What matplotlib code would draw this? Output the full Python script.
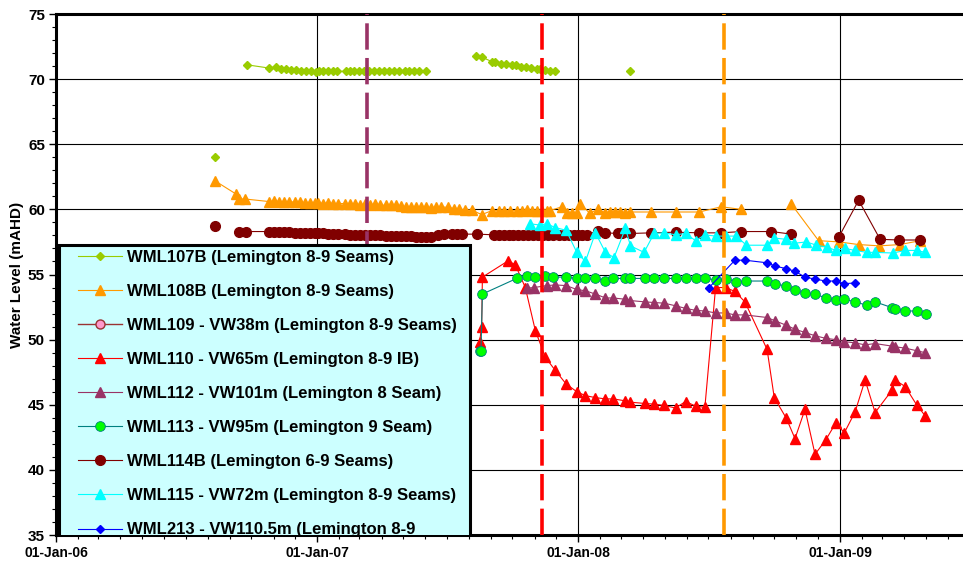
import numpy as np
import pandas as pd
import matplotlib
matplotlib.use('Agg')
import matplotlib.pyplot as plt
import matplotlib.dates as mdates
from matplotlib.lines import Line2D
from matplotlib.legend_handler import HandlerLine2D
from matplotlib.ticker import MultipleLocator

nan = np.nan

# water levels (mAHD), nan = gap in record
wml107b_dates = ['2006-08-11', '2006-08-20',
                 '2006-09-25', '2006-10-26', '2006-11-04', '2006-11-11', '2006-11-19', '2006-11-26',
                 '2006-12-02', '2006-12-09', '2006-12-16', '2006-12-23', '2006-12-30', '2007-01-04',
                 '2007-01-09', '2007-01-16', '2007-01-23', '2007-01-29', '2007-02-11', '2007-02-16',
                 '2007-02-22', '2007-03-01', '2007-03-07', '2007-03-14', '2007-03-21', '2007-03-28',
                 '2007-04-05', '2007-04-12', '2007-04-19', '2007-04-26', '2007-05-04', '2007-05-10',
                 '2007-05-16', '2007-05-24', '2007-06-02', '2007-07-01',
                 '2007-08-11', '2007-08-19', '2007-09-02', '2007-09-06', '2007-09-15', '2007-09-22',
                 '2007-10-01', '2007-10-06', '2007-10-13', '2007-10-20', '2007-10-27', '2007-11-04',
                 '2007-11-09', '2007-11-16', '2007-11-22', '2007-11-29', '2008-01-01',
                 '2008-03-13']
wml107b_vals = [64.0, nan,
                71.1, 70.85, 70.9, 70.8, 70.75, 70.7,
                70.7, 70.65, 70.65, 70.6, 70.55, 70.6,
                70.6, 70.6, 70.6, 70.6, 70.6, 70.65,
                70.65, 70.6, 70.6, 70.65, 70.6, 70.6,
                70.6, 70.6, 70.6, 70.6, 70.6, 70.6,
                70.6, 70.6, 70.6, nan,
                71.75, 71.7, 71.35, 71.3, 71.2, 71.15,
                71.1, 71.05, 70.95, 70.9, 70.85, 70.8,
                70.75, 70.7, 70.65, 70.6, nan,
                70.6]

wml108b_dates = ['2006-08-11', '2006-09-09', '2006-09-14', '2006-09-22', '2006-10-26', '2006-11-02',
                 '2006-11-09', '2006-11-16', '2006-11-23', '2006-12-01', '2006-12-08', '2006-12-15',
                 '2006-12-22', '2006-12-29', '2007-01-02', '2007-01-09', '2007-01-16', '2007-01-23',
                 '2007-01-30', '2007-02-09', '2007-02-16', '2007-02-23', '2007-03-02', '2007-03-09',
                 '2007-03-16', '2007-03-23', '2007-03-30', '2007-04-07', '2007-04-14', '2007-04-21',
                 '2007-04-28', '2007-05-05', '2007-05-12', '2007-05-19', '2007-05-26', '2007-06-02',
                 '2007-06-09', '2007-06-16', '2007-06-23', '2007-07-03', '2007-07-12', '2007-07-19',
                 '2007-07-26', '2007-08-05', '2007-08-19', '2007-09-02', '2007-09-12', '2007-09-19',
                 '2007-09-27', '2007-10-07', '2007-10-14', '2007-10-21', '2007-10-28', '2007-11-04',
                 '2007-11-11', '2007-11-18', '2007-11-22', '2007-12-09', '2007-12-16', '2007-12-23',
                 '2007-12-30', '2008-01-04', '2008-01-17', '2008-01-28', '2008-02-08', '2008-02-15',
                 '2008-02-22', '2008-02-29', '2008-03-07', '2008-03-14', '2008-04-12', '2008-05-16',
                 '2008-06-18', '2008-07-19', '2008-08-16', '2008-09-20', '2008-10-25', '2008-12-02',
                 '2008-12-31', '2009-01-27', '2009-02-25', '2009-03-26', '2009-04-23']
wml108b_vals = [62.2, 61.2, 60.8, 60.8, 60.6, 60.65,
                60.6, 60.6, 60.6, 60.55, 60.55, 60.5,
                60.5, 60.5, 60.5, 60.45, 60.5, 60.45,
                60.45, 60.45, 60.4, 60.4, 60.35, 60.4,
                60.35, 60.4, 60.35, 60.3, 60.3, 60.3,
                60.25, 60.2, 60.2, 60.15, 60.2, 60.15,
                60.1, 60.2, 60.2, 60.15, 60.05, 60.05,
                59.95, 59.95, 59.6, 59.9, 59.9, 59.9,
                59.9, 59.9, 59.9, 59.95, 59.9, 59.9,
                59.9, 59.9, 59.9, 60.2, 59.75, 59.75,
                59.75, 60.45, 59.7, 60.0, 59.75, 59.8,
                59.8, 59.8, 59.75, 59.8, 59.8, 59.8,
                59.8, 60.2, 60.0, nan, 60.4, 57.6,
                57.5, 57.3, 57.2, 57.3, 57.6]

wml110_dates = ['2007-08-16', '2007-08-19', '2007-08-20', '2007-09-25', '2007-10-05', '2007-10-19',
                '2007-11-02', '2007-11-16', '2007-11-29', '2007-12-15', '2007-12-30', '2008-01-11',
                '2008-01-25', '2008-02-08', '2008-02-19', '2008-03-07', '2008-03-14', '2008-04-03',
                '2008-04-16', '2008-04-30', '2008-05-16', '2008-05-30', '2008-06-13', '2008-06-26',
                '2008-07-11', '2008-07-25', '2008-08-07', '2008-08-21', '2008-09-21', '2008-10-01',
                '2008-10-18', '2008-10-30', '2008-11-13', '2008-11-27', '2008-12-12', '2008-12-26',
                '2009-01-07', '2009-01-22', '2009-02-05', '2009-02-19', '2009-03-15', '2009-03-19',
                '2009-04-02', '2009-04-18', '2009-04-30']
wml110_vals = [49.8, 51.0, 54.8, 56.05, 55.75, 54.0,
               50.7, 48.65, 47.7, 46.6, 46.0, 45.7,
               45.55, 45.45, 45.45, 45.3, 45.2, 45.1,
               45.05, 44.95, 44.75, 45.25, 44.9, 44.8,
               54.0, 54.0, 53.7, 52.9, 49.25, 45.55,
               43.95, 42.4, 44.65, 41.2, 42.3, 43.6,
               42.85, 44.45, 46.9, 44.4, 46.15, 46.9,
               46.4, 45.0, 44.15]

wml112_dates = ['2007-10-21', '2007-10-31', '2007-11-18', '2007-11-30', '2007-12-15', '2007-12-30',
                '2008-01-11', '2008-01-25', '2008-02-08', '2008-02-19', '2008-03-07', '2008-03-14',
                '2008-04-03', '2008-04-16', '2008-04-30', '2008-05-16', '2008-05-30', '2008-06-13',
                '2008-06-26', '2008-07-11', '2008-07-25', '2008-08-07', '2008-08-21', '2008-09-21',
                '2008-10-02', '2008-10-18', '2008-10-30', '2008-11-13', '2008-11-27', '2008-12-12',
                '2008-12-26', '2009-01-07', '2009-01-22', '2009-02-05', '2009-02-19', '2009-03-15',
                '2009-03-19', '2009-04-02', '2009-04-18', '2009-04-30']
wml112_vals = [53.95, 54.0, 54.15, 54.2, 54.15, 53.85,
               53.75, 53.5, 53.2, 53.2, 53.1, 53.0,
               52.9, 52.85, 52.8, 52.6, 52.4, 52.25,
               52.2, 52.05, 52.05, 51.9, 51.9, 51.7,
               51.45, 51.1, 50.8, 50.55, 50.3, 50.1,
               50.0, 49.85, 49.75, 49.6, 49.7, 49.5,
               49.45, 49.35, 49.15, 49.0]

wml113_dates = ['2007-08-16', '2007-08-18', '2007-08-20', '2007-10-07', '2007-10-21', '2007-11-02',
                '2007-11-16', '2007-11-27', '2007-12-15', '2007-12-30', '2008-01-11', '2008-01-25',
                '2008-02-08', '2008-02-19', '2008-03-07', '2008-03-14', '2008-04-03', '2008-04-16',
                '2008-04-30', '2008-05-16', '2008-05-30', '2008-06-13', '2008-06-26', '2008-07-11',
                '2008-07-26', '2008-08-09', '2008-08-23', '2008-09-21', '2008-10-02', '2008-10-18',
                '2008-10-30', '2008-11-13', '2008-11-27', '2008-12-12', '2008-12-26', '2009-01-07',
                '2009-01-22', '2009-02-07', '2009-02-19', '2009-03-15', '2009-03-19', '2009-04-02',
                '2009-04-19', '2009-05-01']
wml113_vals = [49.1, 49.1, 53.5, 54.7, 54.9, 54.8,
               54.85, 54.8, 54.8, 54.7, 54.7, 54.7,
               54.5, 54.7, 54.7, 54.7, 54.7, 54.7,
               54.7, 54.7, 54.7, 54.7, 54.7, 54.6,
               54.65, 54.45, 54.5, 54.5, 54.3, 54.1,
               53.8, 53.55, 53.5, 53.2, 53.05, 53.1,
               52.9, 52.65, 52.9, 52.45, 52.35, 52.2,
               52.2, 52.0]

wml114b_dates = ['2006-08-11', '2006-08-25', '2006-09-14', '2006-09-24',
                 '2006-10-26', '2006-11-02', '2006-11-09', '2006-11-16', '2006-11-23', '2006-12-01',
                 '2006-12-08', '2006-12-15', '2006-12-22', '2006-12-29', '2007-01-02', '2007-01-09',
                 '2007-01-16', '2007-01-23', '2007-01-30', '2007-02-09', '2007-02-16', '2007-02-23',
                 '2007-03-02', '2007-03-09', '2007-03-16', '2007-03-23', '2007-03-30', '2007-04-07',
                 '2007-04-14', '2007-04-21', '2007-04-28', '2007-05-05', '2007-05-12', '2007-05-19',
                 '2007-05-26', '2007-06-02', '2007-06-09',
                 '2007-06-19', '2007-06-28', '2007-07-08', '2007-07-15', '2007-07-22', '2007-08-12',
                 '2007-09-05', '2007-09-12', '2007-09-19', '2007-09-26', '2007-10-02', '2007-10-09',
                 '2007-10-16', '2007-10-23', '2007-10-30', '2007-11-06', '2007-11-13', '2007-11-20',
                 '2007-11-27', '2007-12-05', '2007-12-12', '2007-12-19', '2007-12-26', '2007-12-31',
                 '2008-01-06', '2008-01-13', '2008-01-28', '2008-02-08', '2008-02-26', '2008-03-02',
                 '2008-03-14', '2008-04-12', '2008-05-16', '2008-06-18', '2008-07-19', '2008-08-16',
                 '2008-09-27', '2008-10-25', '2008-11-30', '2008-12-30', '2009-01-27', '2009-02-26',
                 '2009-03-25', '2009-04-23']
wml114b_vals = [58.7, nan, 58.3, 58.3,
                58.3, 58.3, 58.3, 58.25, 58.25, 58.2,
                58.2, 58.2, 58.15, 58.15, 58.15, 58.15,
                58.1, 58.1, 58.1, 58.1, 58.05, 58.05,
                58.05, 58.0, 58.0, 58.0, 58.0, 57.95,
                57.95, 57.95, 57.95, 57.95, 57.95, 57.9,
                57.9, 57.9, 57.9,
                58.05, 58.1, 58.1, 58.1, 58.1, 58.1,
                58.05, 58.05, 58.05, 58.05, 58.05, 58.05,
                58.05, 58.05, 58.05, 58.05, 58.05, 58.05,
                58.05, 58.05, 58.05, 58.05, 58.05, 58.05,
                58.05, 58.05, 58.35, 58.2, 58.15, 58.15,
                58.15, 58.2, 58.25, 58.2, 58.2, 58.3,
                58.3, 58.1, nan, 57.85, 60.7, 57.7,
                57.65, 57.65]

wml115_dates = ['2007-10-25', '2007-11-08', '2007-11-18', '2007-11-30', '2007-12-15', '2007-12-30',
                '2008-01-11', '2008-01-25', '2008-02-08', '2008-02-20', '2008-03-07', '2008-03-14',
                '2008-04-02', '2008-04-16', '2008-04-30', '2008-05-16', '2008-05-30', '2008-06-13',
                '2008-06-26', '2008-07-11', '2008-07-26', '2008-08-09', '2008-08-23', '2008-09-21',
                '2008-10-01', '2008-10-18', '2008-10-29', '2008-11-15', '2008-11-29', '2008-12-14',
                '2008-12-26', '2009-01-08', '2009-01-22', '2009-02-07', '2009-02-19', '2009-03-16',
                '2009-04-02', '2009-04-18', '2009-04-30']
wml115_vals = [58.9, 58.8, 58.9, 58.6, 58.4, 56.7,
               56.0, 58.2, 56.7, 56.3, 58.55, 57.2,
               56.7, 58.15, 58.2, 58.05, 58.15, 57.6,
               58.05, 57.95, 57.95, 57.95, 57.25, 57.25,
               57.8, 57.7, 57.4, 57.5, 57.25, 57.1,
               56.85, 57.0, 56.85, 56.7, 56.7, 56.65,
               56.85, 56.85, 56.7]

wml213_dates = ['2008-07-02', '2008-08-07', '2008-08-21', '2008-09-21', '2008-10-02', '2008-10-18',
                '2008-10-30', '2008-11-13', '2008-11-27', '2008-12-12', '2008-12-26', '2009-01-07',
                '2009-01-22']
wml213_vals = [54.0, 56.1, 56.1, 55.9, 55.65, 55.45,
               55.25, 54.8, 54.65, 54.5, 54.5, 54.3,
               54.35]

# mining events marked as dashed lines
event_dates = ['2007-03-12', '2007-11-12', '2008-07-23']
event_colors = ['#993366', '#FF0000', '#FF9900']


class HandlerLifted(HandlerLine2D):
    # sample for a two-line label sits level with the first line
    def __init__(self, lift, **kw):
        super().__init__(**kw)
        self.lift = lift

    def create_artists(self, legend, orig_handle, xdescent, ydescent, width, height,
                       fontsize, trans):
        return super().create_artists(legend, orig_handle, xdescent,
                                      ydescent - self.lift * fontsize, width, height,
                                      fontsize, trans)


plt.rcParams['font.family'] = ['Liberation Sans', 'DejaVu Sans']
plt.rcParams['font.weight'] = 'bold'

fig = plt.figure(figsize=(9.63, 5.63), dpi=100)
ax = fig.add_axes([0.0582, 0.0497, 0.9419, 0.9254])

d = pd.to_datetime
ax.plot(d(wml107b_dates), wml107b_vals, color='#99CC00', lw=0.8, marker='D', ms=4,
        mec='#99CC00', label='WML107B (Lemington 8-9 Seams)')
ax.plot(d(wml108b_dates), wml108b_vals, color='#FF9900', lw=0.8, marker='^', ms=6.5,
        mec='#FF9900', label='WML108B (Lemington 8-9 Seams)')
ax.plot([], [], color='#993333', lw=1, marker='o', ms=6.5, mfc='#FF99CC', mec='#993333',
        label='WML109 - VW38m (Lemington 8-9 Seams)')
ax.plot(d(wml110_dates), wml110_vals, color='#FF0000', lw=0.8, marker='^', ms=6.5,
        mec='#FF0000', label='WML110 - VW65m (Lemington 8-9 IB)')
ax.plot(d(wml112_dates), wml112_vals, color='#993366', lw=0.8, marker='^', ms=6.5,
        mec='#993366', label='WML112 - VW101m (Lemington 8 Seam)')
ax.plot(d(wml113_dates), wml113_vals, color='#008080', lw=0.8, marker='o', ms=7,
        mfc='#00FF00', mec='#008080', mew=0.6, label='WML113 - VW95m (Lemington 9 Seam)')
ax.plot(d(wml114b_dates), wml114b_vals, color='#800000', lw=0.8, marker='o', ms=7,
        mec='#800000', label='WML114B (Lemington 6-9 Seams)')
ax.plot(d(wml115_dates), wml115_vals, color='#00FFFF', lw=0.8, marker='^', ms=6.5,
        mec='#00FFFF', label='WML115 - VW72m (Lemington 8-9 Seams)')
line213, = ax.plot(d(wml213_dates), wml213_vals, color='#0000FF', lw=0.8, marker='D', ms=4,
                   mec='#0000FF', label='WML213 - VW110.5m (Lemington 8-9\nSeams)')

for dt, c in zip(d(event_dates), event_colors):
    ax.axvline(dt, color=c, lw=2.6, dashes=(7.3, 2.3), zorder=3)

ax.set_xlim(d('2006-01-01'), d('2009-06-22'))
ax.set_ylim(35, 75)
ax.xaxis.set_major_locator(mdates.YearLocator())
ax.xaxis.set_minor_locator(mdates.MonthLocator())
ax.xaxis.set_major_formatter(mdates.DateFormatter('%d-%b-%y'))
ax.yaxis.set_major_locator(MultipleLocator(5))
ax.yaxis.set_minor_locator(MultipleLocator(1))
ax.tick_params(which='major', direction='out', length=5, width=1, labelsize=10, pad=3)
ax.tick_params(axis='y', which='major', labelsize=11)
ax.tick_params(which='minor', direction='out', length=3, width=0.8)

ax.set_axisbelow(True)
ax.grid(True, which='major', color='black', lw=0.8)
for side in ['top', 'bottom', 'left']:
    ax.spines[side].set_linewidth(2.2)
ax.spines['right'].set_visible(False)

ax.set_ylabel('Water Level (mAHD)', fontsize=11, fontweight='bold', labelpad=3)

leg = ax.legend(loc='upper left', bbox_to_anchor=(0.0033, 0.0, 0.4532, 0.5566), mode='expand',
                borderaxespad=0, prop={'size': 12, 'weight': 'bold'}, fancybox=False,
                framealpha=1, facecolor='#CCFFFF', edgecolor='black', borderpad=0.3,
                labelspacing=1.14, handlelength=3.47, handletextpad=0.3,
                handler_map={Line2D: HandlerLine2D(numpoints=1, xpad=0.84),
                             line213: HandlerLifted(1.1, numpoints=1, xpad=0.84)})
leg.get_frame().set_linewidth(2.2)
# legend runs off the bottom of the plot area in the original
for a in leg.findobj():
    a.set_clip_box(ax.bbox)

fig.savefig('out.png', dpi=100)
